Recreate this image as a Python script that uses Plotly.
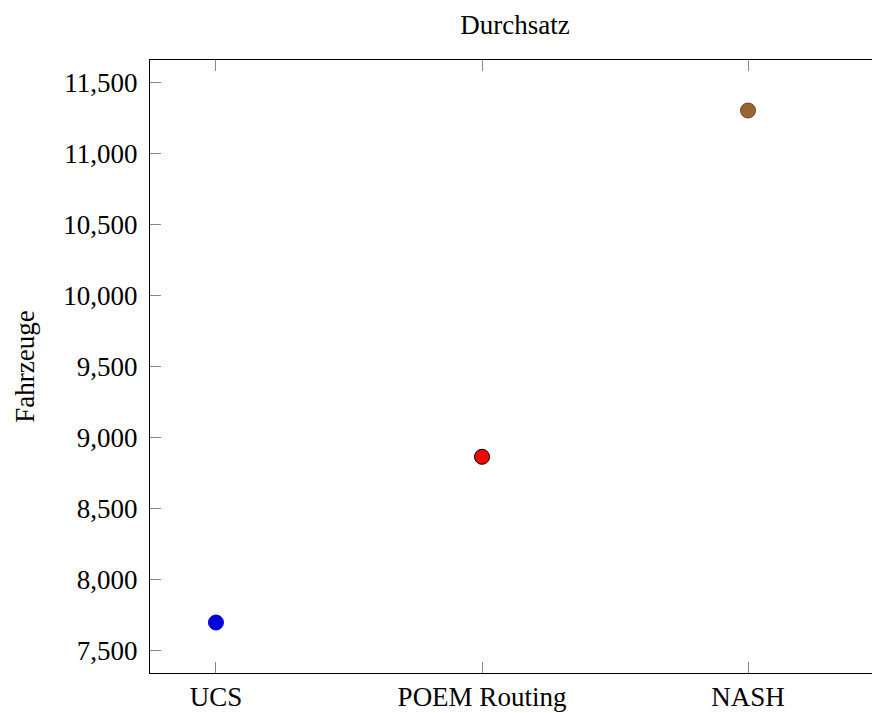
import plotly.graph_objects as go

categories = ["UCS", "POEM Routing", "NASH"]
values = [7700, 8865, 11300]
colors = ["#0000dd", "#ff0000", "#996633"]
outline = ["#0000dd", "#000000", "#6b4724"]
y_ticks = [7500, 8000, 8500, 9000, 9500, 10000, 10500, 11000, 11500]

FONT = "Liberation Serif"

fig = go.Figure()
for i, (c, v) in enumerate(zip(categories, values)):
    fig.add_trace(go.Scatter(
        x=[i], y=[v], mode="markers",
        marker=dict(size=15, color=colors[i], line=dict(color=outline[i], width=1)),
        showlegend=False, hoverinfo="skip",
    ))

fig.update_layout(
    width=872, height=713,
    margin=dict(l=150, r=0, t=60, b=40),
    paper_bgcolor="white", plot_bgcolor="white",
    font=dict(family=FONT, size=27, color="black"),
    title=dict(text="Durchsatz", x=0.5055, xref="paper", xanchor="center",
               y=1 - 25 / 713, yanchor="middle", font=dict(size=27, family=FONT)),
    yaxis2=dict(
        overlaying="y", side="right", matches="y",
        tickmode="array", tickvals=y_ticks,
        ticks="inside", ticklen=2, tickcolor="#888888", tickwidth=1,
        showticklabels=False, showline=False, showgrid=False, zeroline=False,
    ),
)
fig.update_xaxes(
    range=[-0.248, 2.466],
    tickmode="array", tickvals=list(range(len(categories))), ticktext=categories,
    showline=True, linecolor="black", linewidth=1, mirror="ticks",
    ticks="inside", ticklen=11, tickcolor="#888888", tickwidth=1,
    showgrid=False, zeroline=False,
    tickfont=dict(size=27, family=FONT),
)
fig.layout.yaxis.update(
    range=[7345, 11655],
    tickmode="array", tickvals=y_ticks, tickformat=",d",
    showline=True, linecolor="black", linewidth=1, mirror=False,
    ticks="inside", ticklen=11, tickcolor="#888888", tickwidth=1,
    ticklabelstandoff=6,
    showgrid=False, zeroline=False,
    tickfont=dict(size=27, family=FONT),
    title=dict(text="Fahrzeuge", font=dict(size=27, family=FONT), standoff=20),
)

fig.write_html(
    "out.html",
    config={"displayModeBar": False},
    post_script="document.body.style.margin='0';document.body.style.overflow='hidden';",
)
